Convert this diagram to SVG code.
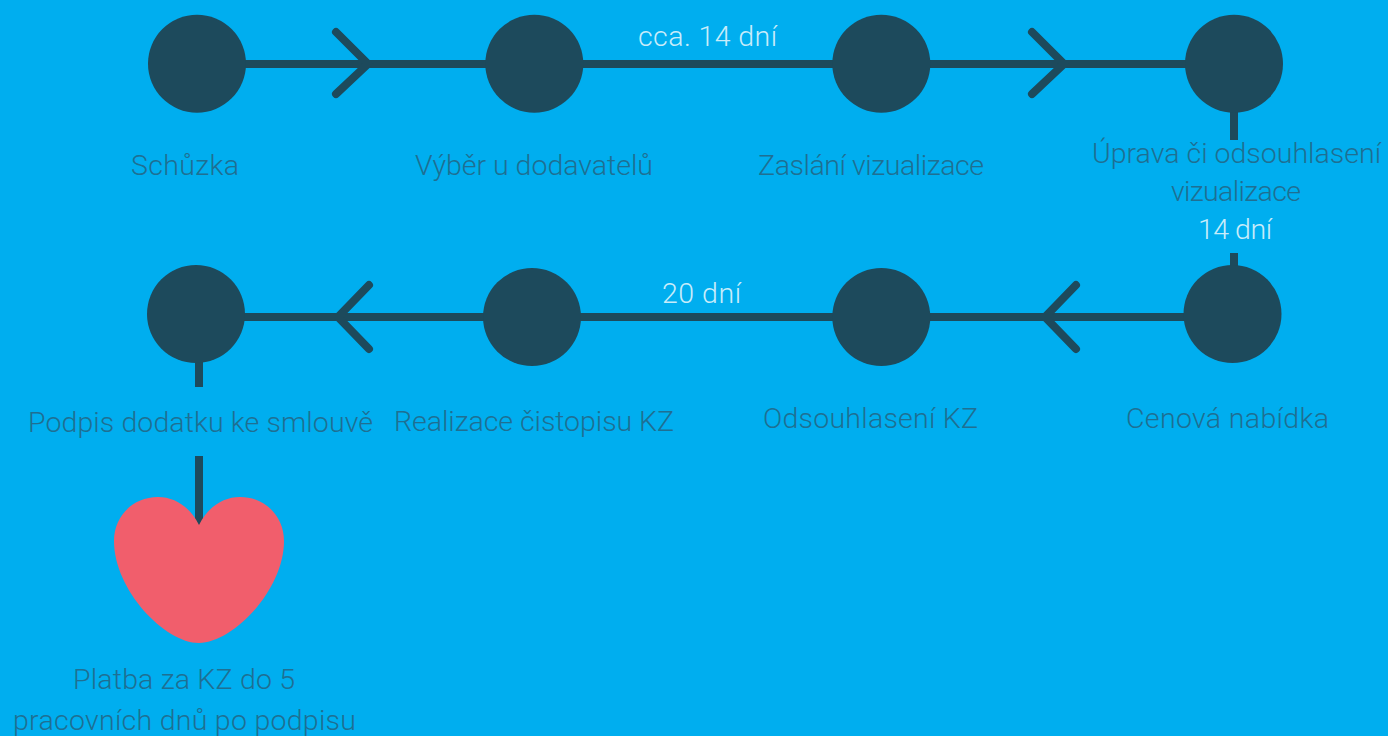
<svg xmlns="http://www.w3.org/2000/svg" width="1388" height="736" viewBox="0 0 1388 736">
<style>
.n{fill:#1d4a5c}
.c{fill:none;stroke:#1d4a5c;stroke-width:8}
.a{fill:none;stroke:#1d4a5c;stroke-width:8;stroke-linecap:round;stroke-linejoin:miter}
text{font-family:"Roboto","Liberation Sans",sans-serif;font-weight:300;font-size:28.5px;text-anchor:middle}
.d{fill:#1f6f92}
.w{fill:#c8ecfa}
</style>
<rect width="1388" height="736" fill="#00aeef"/>
<g id="connectors">
<path class="c" d="M197 64H1234M1234 64V140M1234 253V314M1233 317H196M199 314V387M199 456V530"/>
<path class="a" d="M336 32L368 64L336 94"/>
<path class="a" d="M1032 32L1064 64L1032 94"/>
<path class="a" d="M369 285L338 317L369 349"/>
<path class="a" d="M1076 285L1045 317L1076 349"/>
</g>
<g id="node-schuzka"><circle class="n" cx="197" cy="63.7" r="49"/><text class="d" x="185" y="175" textLength="108">Schůzka</text></g>
<g id="node-vyber"><circle class="n" cx="534.3" cy="63.7" r="49"/><text class="d" x="534" y="175" textLength="238">Výběr u dodavatelů</text></g>
<g id="node-zaslani"><circle class="n" cx="881.3" cy="63.7" r="49"/><text class="d" x="871" y="175" textLength="226">Zaslání vizualizace</text></g>
<g id="node-uprava"><circle class="n" cx="1234" cy="63.7" r="49"/><text class="d" x="1236.5" y="163" textLength="289">Úprava či odsouhlasení</text><text class="d" x="1236" y="201" textLength="130">vizualizace</text></g>
<g id="node-cenova"><circle class="n" cx="1232.5" cy="314" r="49"/><text class="d" x="1227.5" y="428" textLength="203">Cenová nabídka</text></g>
<g id="node-odsouhlaseni"><circle class="n" cx="881.3" cy="317" r="49"/><text class="d" x="870.5" y="428" textLength="215">Odsouhlasení KZ</text></g>
<g id="node-realizace"><circle class="n" cx="532" cy="317" r="49"/><text class="d" x="534" y="431" textLength="280">Realizace čistopisu KZ</text></g>
<g id="node-podpis"><circle class="n" cx="196" cy="314" r="49"/><text class="d" x="200.5" y="432" textLength="345">Podpis dodatku ke smlouvě</text></g>
<g id="node-platba"><path fill="#f15e6c" d="M199 525C190 507 175 497 158 497C133 497 114 516 114 541C114 590 165 643 199 643C233 643 284 590 284 541C284 516 265 497 240 497C223 497 208 507 199 525Z"/><text class="d" x="184" y="689" textLength="222">Platba za KZ do 5</text><text class="d" x="184.5" y="730" textLength="343">pracovních dnů po podpisu</text></g>
<g id="labels"><text class="w" x="707.5" y="45.5" textLength="139">cca. 14 dní</text><text class="w" x="1235" y="238.5" textLength="74">14 dní</text><text class="w" x="701.5" y="303" textLength="79">20 dní</text></g>
</svg>
